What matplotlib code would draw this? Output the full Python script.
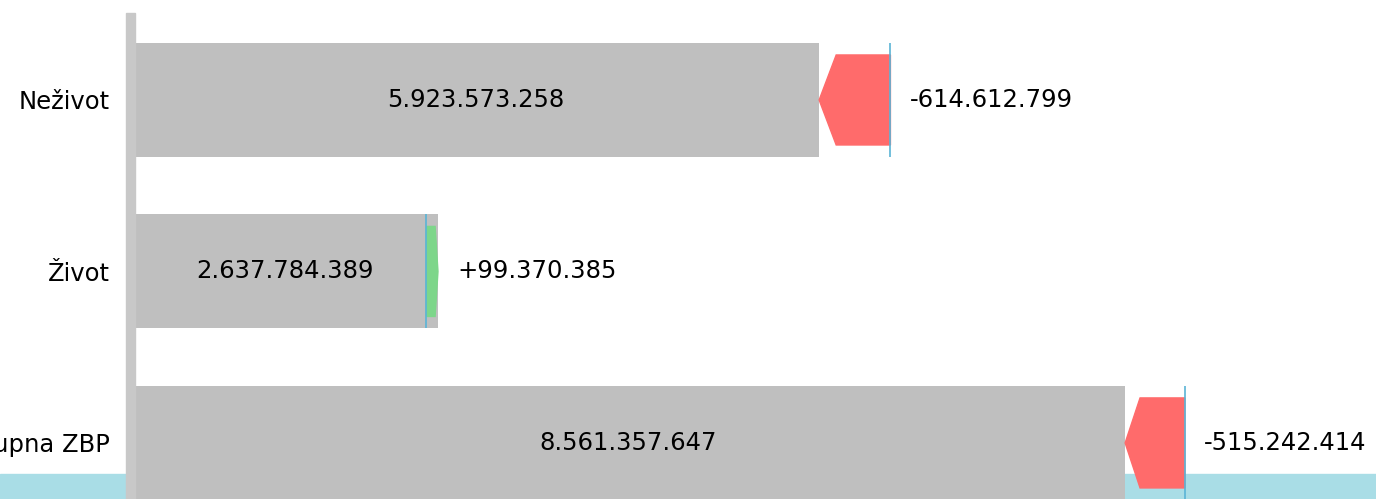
import matplotlib.pyplot as plt
import numpy as np
from matplotlib.patches import Polygon, Rectangle

KATEGORIJE = ["Neživot", "Život", "Ukupna ZBP"]
TRENUTNO = [5923573258, 2637784389, 8561357647]
PROMJENA = [-614612799, 99370385, -515242414]

SIVA = "#bfbfbf"
CRVENA = "#ff6b6b"
ZELENA = "#7dd68a"
PLAVA = "#5ab4d6"
TRAKA = "#a9dde6"


def fmt(v, znak=False):
    s = f"{abs(v):,}".replace(",", ".")
    if znak:
        return ("+" if v > 0 else "-") + s
    return ("-" if v < 0 else "") + s


def main() -> None:
    plt.rcParams["font.family"] = "DejaVu Sans"
    fig = plt.figure(figsize=(13.76, 4.99), dpi=100)
    ax = fig.add_axes([132 / 1376, 0, 1 - 132 / 1376, 1])
    ax.patch.set_visible(False)

    # traka na dnu i siva os lijevo
    fig.patches.append(Rectangle((0, 0), 1, 25 / 499, transform=fig.transFigure,
                                 color=TRAKA, zorder=-1))
    fig.patches.append(Rectangle((126 / 1376, 0), 9 / 1376, 486 / 499,
                                 transform=fig.transFigure, color="#c8c8c8", zorder=2))

    trenutno = np.array(TRENUTNO, dtype=float)
    promjena = np.array(PROMJENA, dtype=float)
    prije = trenutno - promjena
    y = np.arange(len(KATEGORIJE))
    bh = 0.665
    ah = 0.525

    ax.barh(y, trenutno, height=bh, color=SIVA, zorder=1)
    for yi, cur, prev, d in zip(y, trenutno, prije, promjena):
        smjer = 1 if cur > prev else -1
        glava = min(1.47e8, 0.25 * abs(d))
        baza = cur - smjer * glava
        pts = [(prev, yi - ah / 2), (baza, yi - ah / 2), (cur, yi),
               (baza, yi + ah / 2), (prev, yi + ah / 2)]
        ax.add_patch(Polygon(pts, closed=True, color=ZELENA if d > 0 else CRVENA, zorder=2))
        ax.vlines(prev, yi - bh / 2, yi + bh / 2, color=PLAVA, lw=1.2, zorder=3)
        ax.text(cur / 2, yi, fmt(int(cur)), ha="center", va="center", fontsize=17.5, zorder=4)
        ax.annotate(fmt(int(d), znak=True), (max(cur, prev), yi), xytext=(14, 0),
                    textcoords="offset points", ha="left", va="center", fontsize=17.5)

    ax.set_xlim(0, (1376 - 132) / 1.16e-7)
    ax.set_ylim(2.327, -0.583)
    ax.set_yticks(y)
    ax.set_yticklabels(KATEGORIJE, fontsize=17.5)
    ax.tick_params(axis="y", length=0, pad=16)
    ax.set_xticks([])
    for s in ax.spines.values():
        s.set_visible(False)

    fig.savefig("out.png", dpi=100)
    plt.close(fig)


if __name__ == "__main__":
    main()
